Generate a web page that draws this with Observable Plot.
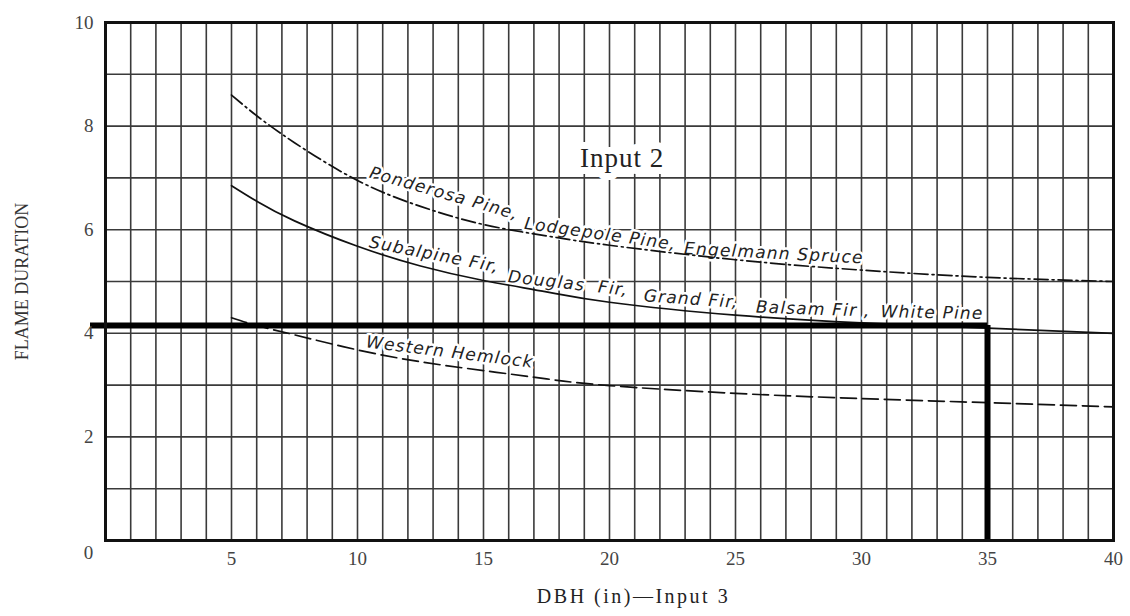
<!DOCTYPE html>
<html>
<head>
<meta charset="utf-8">
<script src="https://cdn.jsdelivr.net/npm/d3@7"></script>
<script src="https://cdn.jsdelivr.net/npm/@observablehq/plot@0.6"></script>
<style>
  body { margin: 0; background: #fff; }
</style>
</head>
<body>
<div id="chart"></div>
<script>
// Tree diameter at breast height (inches) where each curve is sampled
const dbh = [5, 6, 7.5, 10, 12.5, 15, 17.5, 20, 25, 30, 35, 40];

// Flame duration for each species group
const ponderosaDuration = [8.6, 8.2, 7.68, 6.95, 6.45, 6.1, 5.88, 5.7, 5.42, 5.22, 5.08, 5.0];
const subalpineDuration = [6.85, 6.55, 6.17, 5.68, 5.3, 5.02, 4.8, 4.6, 4.35, 4.2, 4.1, 4.0];
const hemlockDuration   = [4.3, 4.15, 3.97, 3.68, 3.45, 3.28, 3.12, 2.99, 2.84, 2.74, 2.66, 2.58];

// Worked example: a 35 in tree read across to the duration axis
const readingDBH = 35;
const readingDuration = 4.15;

// Axis ticks and grid
const xTicks = [5, 10, 15, 20, 25, 30, 35, 40];
const yTicks = [2, 4, 6, 8, 10];
const gridDBH = d3.range(1, 40);
const gridDuration = d3.range(1, 10);

// Species names written along the curves, split into pieces that follow the bend
const curveLabels = [
  {text: "Ponderosa Pine,",  x: 10.44, y: 7.01, angle: 16},
  {text: "Lodgepole Pine,",  x: 16.6,  y: 6.02, angle: 8},
  {text: "Engelmann Spruce", x: 22.95, y: 5.53, angle: 3},
  {text: "Subalpine Fir,",   x: 10.44, y: 5.66, angle: 11},
  {text: "Douglas  Fir,",    x: 15.95, y: 4.99, angle: 6.5},
  {text: "Grand Fir,",       x: 21.35, y: 4.62, angle: 4},
  {text: "Balsam Fir ,",     x: 25.8,  y: 4.40, angle: 2},
  {text: "White Pine",       x: 30.75, y: 4.31, angle: 1},
  {text: "Western Hemlock",  x: 10.32, y: 3.73, angle: 7}
];
const panelTitle = {text: "Input 2", x: 20.5, y: 7.37};

const series = (name, values) => dbh.map((d, i) => ({dbh: d, duration: values[i], name}));
const ponderosa = series("Ponderosa", ponderosaDuration);
const subalpine = series("Subalpine", subalpineDuration);
const hemlock = series("Hemlock", hemlockDuration);

const serif = "'Liberation Serif', 'Times New Roman', serif";
const sans = "'DejaVu Sans', Verdana, sans-serif";

const chart = Plot.plot({
  width: 1130,
  height: 616,
  marginLeft: 105,
  marginRight: 17,
  marginTop: 22,
  marginBottom: 76,
  x: {domain: [0, 40], label: null},
  y: {domain: [0, 10], label: null},
  style: {fontFamily: serif, fontSize: "19px", color: "#333", background: "#fff"},
  marks: [
    Plot.ruleX(gridDBH, {stroke: "#3a3a3a", strokeWidth: 1.6}),
    Plot.ruleY(gridDuration, {stroke: "#3a3a3a", strokeWidth: 1.6}),

    Plot.text(curveLabels, {
      x: "x", y: "y", text: "text", rotate: "angle",
      textAnchor: "start", lineAnchor: "bottom",
      fontFamily: sans, fontSize: 17, fontStyle: "italic",
      fill: "#222", stroke: "white", strokeWidth: 5
    }),
    Plot.text([panelTitle], {
      x: "x", y: "y", text: "text",
      fontFamily: serif, fontSize: 27, fill: "#222",
      stroke: "white", strokeWidth: 14
    }),

    Plot.line(ponderosa, {x: "dbh", y: "duration", curve: "natural",
      stroke: "#111", strokeWidth: 1.7, strokeDasharray: "14,4,2,4"}),
    Plot.line(subalpine, {x: "dbh", y: "duration", curve: "natural",
      stroke: "#111", strokeWidth: 1.7}),
    Plot.line(hemlock, {x: "dbh", y: "duration", curve: "natural",
      stroke: "#111", strokeWidth: 1.7, strokeDasharray: "16,6"}),

    Plot.ruleY([readingDuration], {x1: 0, x2: readingDBH, insetLeft: -15,
      stroke: "#000", strokeWidth: 6}),
    Plot.ruleX([readingDBH], {y1: 0, y2: readingDuration, stroke: "#000", strokeWidth: 6}),

    Plot.frame({stroke: "#111", strokeWidth: 3}),

    Plot.axisX(xTicks, {tickSize: 0, tickPadding: 11, fill: "#444", fontSize: 19,
      tickFormat: d => String(d)}),
    Plot.axisY(yTicks, {tickSize: 0, tickPadding: 12, fill: "#444", fontSize: 19,
      tickFormat: d => String(d)}),
    Plot.text(["0"], {text: d => d, frameAnchor: "bottom-left", textAnchor: "middle",
      dx: -17, dy: 18, fill: "#444", fontSize: 19}),

    Plot.text(["FLAME DURATION"], {text: d => d, frameAnchor: "left", textAnchor: "middle",
      dx: -83, rotate: -90, fontSize: 18, fill: "#333"}),
    Plot.text(["DBH (in)\u2014Input 3"], {text: d => d, frameAnchor: "bottom", textAnchor: "middle",
      dx: 24, dy: 62, fontSize: 20, fill: "#222"})
  ]
});

// Spread the lettering a little and keep the doubled space in "Douglas  Fir"
const labelSet = new Set(curveLabels.map(d => d.text));
d3.select(chart).selectAll("text")
  .filter(function() { return labelSet.has(this.textContent); })
  .style("letter-spacing", "1.2px")
  .style("white-space", "pre");
d3.select(chart).selectAll("text")
  .filter(function() { return this.textContent === "DBH (in)\u2014Input 3"; })
  .style("letter-spacing", "2.5px");
d3.select(chart).selectAll("text")
  .filter(function() { return this.textContent === "Input 2"; })
  .style("letter-spacing", "1px");

document.getElementById("chart").appendChild(chart);
</script>
</body>
</html>
